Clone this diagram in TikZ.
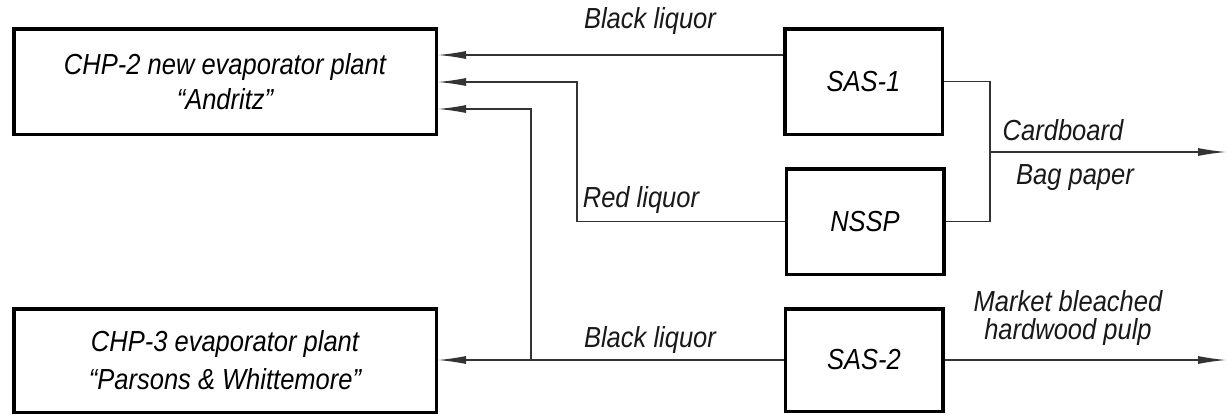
\documentclass[tikz,border=0pt]{standalone}
\usepackage{fontspec}
\setmainfont{Liberation Sans}[FakeStretch=0.88]
\usetikzlibrary{arrows.meta,calc}
\begin{document}
\begin{tikzpicture}[x=1pt,y=-1pt,
  txt/.style={font=\fontsize{29}{35}\selectfont\itshape},
  box/.style={txt,draw=black,line width=3.5pt,rectangle,inner sep=0pt,align=center},
  plantbox/.style={box,minimum width=422.5pt},
  unitbox/.style={box,minimum width=157.5pt,minimum height=105.5pt},
  conn/.style={draw=black!80,line width=1.3pt},
  arr/.style={conn,-{Latex[length=28pt,width=8pt]}},
  lbl/.style={txt,inner sep=0pt,anchor=base,text=black!90}]
\useasboundingbox (0,0) rectangle (1229,415);
\fill[white] (0,0) rectangle (1229,415);
% boxes
\node[plantbox,minimum height=105.5pt] (chp2) at (225,81.5) {CHP-2 new evaporator plant\\``Andritz''};
\node[plantbox,minimum height=103.5pt] (chp3) at (225,360.5) {CHP-3 evaporator plant\\[3pt]``Parsons \& Whittemore''};
\node[unitbox] (sas1) at (863.5,81.5) {SAS-1};
\node[unitbox] (nssp) at (865,221.5) {NSSP};
\node[unitbox,minimum height=102.5pt] (sas2) at (864,360) {SAS-2};
% helper coordinates
\coordinate (t1) at (0,55);
\coordinate (r1) at (577,82);
\coordinate (b1) at (531,109);
\coordinate (m) at (990,152);
\coordinate (out1) at (1226,152);
\coordinate (out2) at (1226,360);
% connectors
\draw[arr] (sas1.west |- t1) -- (chp2.east |- t1);
\draw[arr] (nssp.west) -| (r1) -- (chp2.east |- r1);
\draw[arr] (b1 |- sas2.west) -- (b1) -- (chp2.east |- b1);
\draw[arr] (sas2.west) -- (chp3.east |- sas2.west);
\draw[conn] (sas1.east) -| (m) |- (nssp.east);
\draw[arr] (m) -- (out1);
\draw[arr] (sas2.east) -- (out2);
% labels
\node[lbl] (l1) at (650,28) {Black liquor};
\node[lbl] (l2) at (641,207) {Red liquor};
\node[lbl] (l3) at (650,347) {Black liquor};
\node[lbl] (l4) at (1063,140) {Cardboard};
\node[lbl] (l5) at (1075,184) {Bag paper};
\node[lbl] (l6) at (1068,311) {Market bleached};
\node[lbl] (l7) at (1068,339) {hardwood pulp};
\end{tikzpicture}
\end{document}
